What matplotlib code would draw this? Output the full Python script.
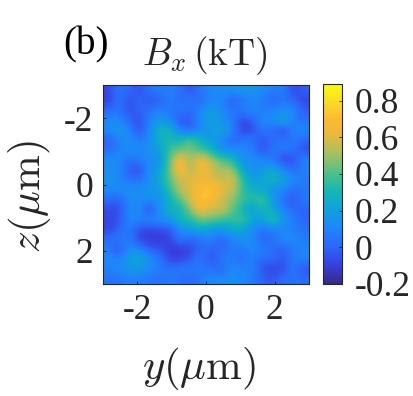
import numpy as np
import matplotlib
matplotlib.use("Agg")
import matplotlib.pyplot as plt
from matplotlib.colors import LinearSegmentedColormap

plt.rcParams['font.family'] = ['Liberation Serif', 'DejaVu Serif']
plt.rcParams['mathtext.fontset'] = 'cm'

top_left = [
 [-.08,.06,.02,-.06,.05,.09,.08,.05,-.08,.08],
 [-.11,.06,-.07,.02,-.06,-.03,.1,.0,.08,.0],
 [.0,.08,-.08,.02,.03,.12,.02,.1,.02,.1],
 [.12,.1,.02,-.09,.1,.17,.12,-.08,-.03,.13],
 [.12,.2,.12,-.08,.12,.3,.3,.08,-.02,.13],
 [-.02,.08,.14,.05,.12,.28,.3,.3,.44,.26],
 [.02,.08,.14,.12,.15,.2,.38,.42,.46,.36],
 [.13,.14,.03,.08,.13,.12,.44,.7,.48,.68],
 [.13,.13,-.03,-.09,.13,.2,.44,.74,.48,.68],
 [.15,.12,.04,.03,.15,.24,.42,.56,.62,.6],
]
top_right = [
 [.1,.15,.14,.18,.2,.12,.08,.1,-.09,.0],
 [.12,.1,-.02,.03,.08,.1,-.03,.05,.0,-.09],
 [.2,.13,.04,.1,.13,.06,.1,.13,.12,-.02],
 [.25,.12,.08,-.09,.0,.13,.12,.27,.08,.02],
 [.14,.27,.12,-.1,-.09,.08,.03,-.08,.1,.13],
 [.2,.12,-.02,.05,.08,-.06,.03,.03,.08,.0],
 [.3,.12,.12,.13,.07,-.09,.08,.07,.06,-.08],
 [.52,.42,.34,.12,.15,.12,.04,-.1,-.08,.12],
 [.6,.48,.54,.22,.12,.16,.27,.1,.03,.08],
 [.6,.54,.62,.38,.18,.25,.3,.24,.12,.08],
]
bottom_left = [
 [.13,.13,.15,.14,.15,.18,.36,.56,.58,.7],
 [.03,-.02,.13,.12,.15,.15,.27,.42,.58,.76],
 [-.07,-.08,.1,.13,-.11,.14,.3,.26,.48,.66],
 [-.08,-.05,.12,.12,.12,.14,.17,.33,.32,.47],
 [-.09,-.03,.1,-.07,-.09,-.06,-.06,.14,.2,.24],
 [.03,.08,.08,-.09,-.11,-.12,-.09,.08,-.03,.05],
 [.08,-.07,.12,.12,-.03,-.03,-.11,-.12,-.08,.02],
 [.13,.08,.2,.28,.15,.06,-.1,-.09,-.03,.08],
 [.08,.13,.16,.16,.12,.08,.05,.08,.08,.06],
 [.04,.04,.08,.08,.05,.03,.07,.03,.0,.06],
]
bottom_right = [
 [.78,.62,.58,.36,.26,.22,.15,.1,.02,.05],
 [.68,.54,.5,.38,.34,.42,.18,.03,-.05,.08],
 [.55,.6,.44,.28,.16,.32,.22,.08,.02,-.02],
 [.44,.38,.34,.42,.24,.2,.42,.16,.08,.0],
 [.18,.16,.26,.24,.12,.02,.08,.1,.08,.03],
 [.1,-.03,.1,.14,.14,-.02,.03,.14,.12,.08],
 [.0,.0,.07,.05,.12,.1,.03,-.03,.08,.1],
 [-.08,.08,.08,.02,.1,.0,.03,-.05,.08,.1],
 [.06,-.02,.12,.1,.1,-.07,-.09,-.07,.08,-.07],
 [.12,.12,.15,.1,.07,.0,-.04,.04,.04,.03],
]
y_ticks = [-2, 0, 2]
z_ticks = [-2, 0, 2]
tick_labels = ['-2', '0', '2']
cbar_ticks = [-0.2, 0, 0.2, 0.4, 0.6, 0.8]
cbar_labels = ['-0.2', '0', '0.2', '0.4', '0.6', '0.8']
vmin, vmax = -0.2, 0.89

stops = [(0,(53,42,135)),(.1,(55,65,225)),(.18,(45,100,250)),(.28,(30,135,250)),
         (.37,(15,160,222)),(.46,(20,182,182)),(.55,(75,192,140)),(.65,(165,192,100)),
         (.75,(235,185,60)),(.82,(252,185,50)),(.9,(250,215,40)),(1,(249,251,14))]
parula = LinearSegmentedColormap.from_list('parula', [(p, tuple(c/255 for c in rgb)) for p, rgb in stops], N=256)

W, H = 413, 396
fig = plt.figure(figsize=(W/100, H/100), dpi=100)
def axbox(x0, y0, x1, y1):
    return [x0/W, 1-y1/H, (x1-x0)/W, (y1-y0)/H]

FS = 25.5
DARK = '#262626'
ax = fig.add_axes(axbox(103, 85, 309, 284))
field = np.vstack([np.hstack([top_left, top_right]), np.hstack([bottom_left, bottom_right])])
im = ax.imshow(field, extent=[-3, 3, 3, -3], cmap=parula, vmin=vmin, vmax=vmax,
               interpolation='bicubic', aspect='auto')
ax.set_xticks(y_ticks, tick_labels)
ax.set_yticks(z_ticks, tick_labels)
ax.tick_params(direction='in', length=2, width=0.6, labelsize=FS, labelcolor=DARK, color=DARK, pad=7)
for s in ax.spines.values():
    s.set_linewidth(0.8); s.set_color(DARK)

cax = fig.add_axes(axbox(323, 84, 342, 284))
cb = fig.colorbar(im, cax=cax)
cb.set_ticks(cbar_ticks, labels=cbar_labels)
cax.tick_params(direction='in', length=2, width=0.6, labelsize=FS, labelcolor=DARK, color=DARK, pad=9)
cb.outline.set_linewidth(0.8); cb.outline.set_edgecolor(DARK)

fig.text(86/W, 1-45/H, '(b)', fontsize=28, color='black', ha='center', va='center')
fig.text(205/W, 1-56/H, r'$B_x\,(\mathrm{kT})$', fontsize=27, color=DARK, ha='center', va='center')
fig.text(30/W, 1-196/H, r'$z(\mu\mathrm{m})$', fontsize=31, color=DARK, rotation=90, ha='center', va='center')
fig.text(199/W, 1-368/H, r'$y(\mu\mathrm{m})$', fontsize=31, color=DARK, ha='center', va='center')
fig.savefig('out.png', dpi=100)
